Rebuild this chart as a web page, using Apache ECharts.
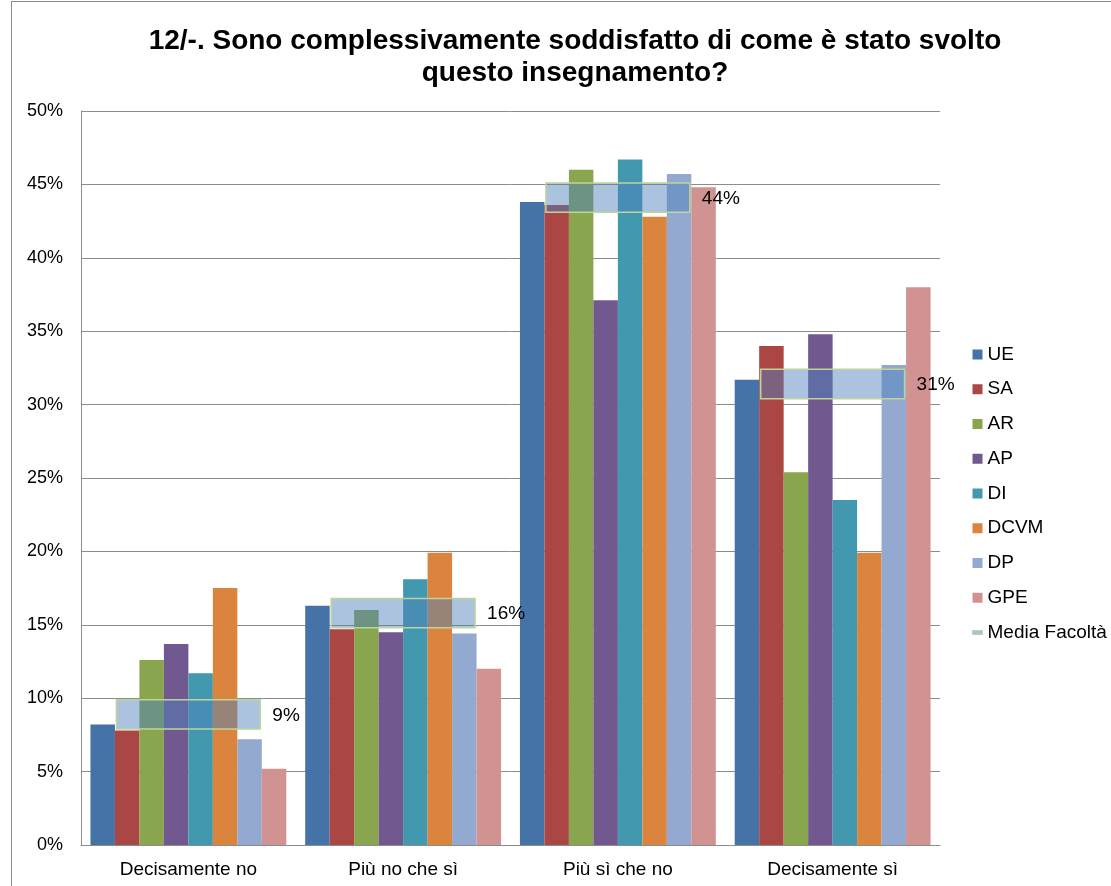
<!DOCTYPE html>
<html>
<head>
<meta charset="utf-8">
<script src="https://cdn.jsdelivr.net/npm/echarts@6/dist/echarts.min.js"></script>
<style>
  html, body { margin: 0; padding: 0; background: #fff; }
  #frame { position: absolute; left: 11px; top: 1px; width: 1110px; height: 900px; border-left: 1px solid #8c8c8c; border-top: 1px solid #8c8c8c; }
  #chart { position: absolute; left: 0; top: 0; width: 1111px; height: 886px; }
</style>
</head>
<body>
<div id="frame"></div>
<div id="chart"></div>
<script>
// categories and series (percent)
const categories = ['Decisamente no', 'Più no che sì', 'Più sì che no', 'Decisamente sì']
const seriesNames = ['UE', 'SA', 'AR', 'AP', 'DI', 'DCVM', 'DP', 'GPE']
const UE   = [8.2, 16.3, 43.8, 31.7]
const SA   = [7.8, 14.7, 43.6, 34.0]
const AR   = [12.6, 16.0, 46.0, 25.4]
const AP   = [13.7, 14.5, 37.1, 34.8]
const DI   = [11.7, 18.1, 46.7, 23.5]
const DCVM = [17.5, 19.9, 42.8, 19.9]
const DP   = [7.2, 14.4, 45.7, 32.7]
const GPE  = [5.2, 12.0, 44.8, 38.0]
const mediaFacolta = [8.9, 15.8, 44.1, 31.4]
const mediaLabels = ['9%', '16%', '44%', '31%']
const yTicks = [0, 5, 10, 15, 20, 25, 30, 35, 40, 45, 50]

const colors = ['#4572A7', '#AA4643', '#89A54E', '#71588F', '#4198AF', '#DB843D', '#93A9CF', '#D19392']
const values = [UE, SA, AR, AP, DI, DCVM, DP, GPE]
const font = 'Liberation Sans, Arial, sans-serif'

let barSeries = seriesNames.map((name, i) => ({
    name: name,
    type: 'bar',
    barGap: 0,
    barCategoryGap: '8.8%',
    data: values[i],
    itemStyle: { color: colors[i] }
}))

let mediaSeries = {
    name: 'Media Facoltà',
    type: 'custom',
    z: 5,
    data: mediaFacolta.map((v, i) => [i, v]),
    renderItem: function (params, api) {
        let c = api.coord([api.value(0), api.value(1)])
        let bandW = api.size([1, 0])[0]
        let h = api.size([0, 2])[1]
        let w = bandW * 0.67
        return {
            type: 'group',
            children: [
                {
                    type: 'rect',
                    shape: { x: c[0] - w / 2, y: c[1] - h / 2, width: w, height: h },
                    style: { fill: 'rgba(79,129,189,0.48)', stroke: '#BED49A', lineWidth: 1.5 }
                },
                {
                    type: 'text',
                    style: {
                        x: c[0] + w / 2 + 12, y: c[1] + 1,
                        text: mediaLabels[params.dataIndex],
                        fill: '#000', font: '19px ' + font,
                        verticalAlign: 'middle', align: 'left'
                    }
                }
            ]
        }
    }
}

let option = {
    animation: false,
    title: {
        text: '12/-. Sono complessivamente soddisfatto di come è stato svolto\nquesto insegnamento?',
        left: 570,
        textAlign: 'center',
        top: 20,
        textStyle: { fontFamily: font, fontSize: 28, fontWeight: 'bold', color: '#000', lineHeight: 32 }
    },
    legend: {
        orient: 'vertical',
        left: 972,
        top: 345,
        padding: 0,
        itemGap: 15.75,
        itemWidth: 10,
        itemHeight: 10,
        textStyle: { fontFamily: font, fontSize: 19, color: '#000' },
        data: seriesNames.map(n => ({ name: n, icon: 'rect' })).concat([{
            name: 'Media Facoltà',
            icon: 'path://M0,3 L10,3 L10,7 L0,7 Z',
            itemStyle: { color: '#A9C1E0', borderColor: '#BED49A', borderWidth: 1 }
        }])
    },
    grid: {
        left: 81,
        right: 171,
        top: 111,
        bottom: 41
    },
    xAxis: {
        type: 'category',
        data: categories,
        axisTick: { show: false },
        axisLine: { lineStyle: { color: '#8c8c8c', width: 1 } },
        axisLabel: { fontFamily: font, fontSize: 19, color: '#000', margin: 15 }
    },
    yAxis: {
        type: 'value',
        min: yTicks[0],
        max: yTicks[yTicks.length - 1],
        interval: 5,
        axisLine: { show: true, lineStyle: { color: '#8c8c8c', width: 1 } },
        axisTick: { show: false },
        splitLine: { lineStyle: { color: '#8c8c8c', width: 1 } },
        axisLabel: { fontFamily: font, fontSize: 18, color: '#000', margin: 18, formatter: '{value}%' }
    },
    series: barSeries.concat([mediaSeries])
}

let chart = echarts.init(document.getElementById('chart'))
chart.setOption(option)
</script>
</body>
</html>
